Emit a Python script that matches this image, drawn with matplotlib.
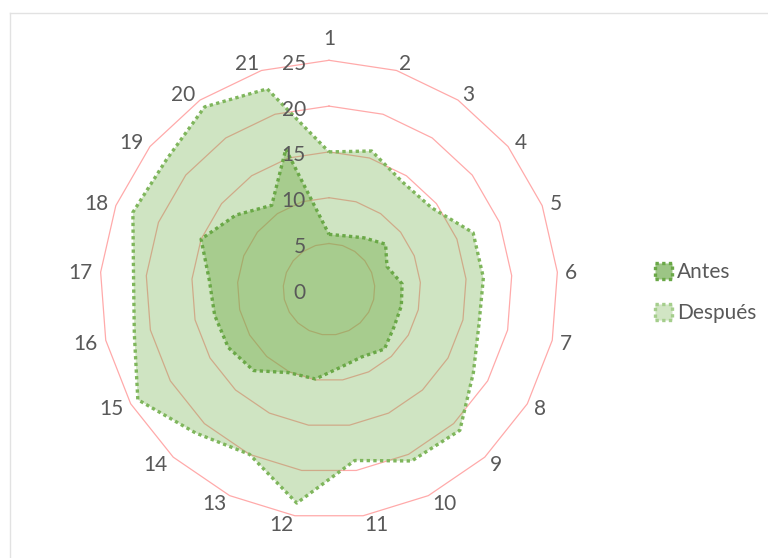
import numpy as np
import matplotlib
matplotlib.use('Agg')
import matplotlib.pyplot as plt
from matplotlib.patches import Patch
from matplotlib.lines import Line2D

categories = [str(i) for i in range(1, 22)]
antes = [6.0, 6.1, 6.8, 7.9, 6.8, 8.0, 8.1, 8.2, 8.9, 8.2, 8.6, 9.9, 10.1,
         12.1, 12.7, 12.8, 13.1, 15.0, 13.0, 11.1, 16.0]
despues = [15.0, 15.8, 14.2, 14.3, 16.9, 16.9, 16.8, 18.2, 21.0, 20.8, 18.9,
           23.6, 20.0, 21.4, 24.1, 21.8, 21.4, 23.0, 22.7, 24.1, 22.9]
r_ticks = [0, 5, 10, 15, 20, 25]
series_names = ['Antes', 'Después']

plt.rcParams['font.family'] = ['Lato', 'DejaVu Sans']
W, H, DPI = 768, 558, 100
TXT = '#595959'
FS = 15
fig = plt.figure(figsize=(W / DPI, H / DPI), dpi=DPI)
fig.patch.set_facecolor('white')

# chart-area border (only top and left visible)
fig.add_artist(Line2D([10 / W, 1.0], [1 - 13 / H, 1 - 13 / H], color='#E2E2E2', lw=1.0))
fig.add_artist(Line2D([10 / W, 10 / W], [0.0, 1 - 13 / H], color='#E2E2E2', lw=1.0))

cx, cy, R = 329, 289.3, 229
ax = fig.add_axes([(cx - R) / W, (H - cy - R) / H, 2 * R / W, 2 * R / H], projection='polar')
ax.set_theta_zero_location('N')
ax.set_theta_direction(-1)
ax.set_ylim(0, 25)
ax.set_axis_off()

n = len(categories)
theta = np.linspace(0, 2 * np.pi, n, endpoint=False)
tc = np.append(theta, theta[0])

# polygon gridlines
for r in r_ticks[1:]:
    ax.plot(tc, [r] * (n + 1), color='#FFAAAA', lw=0.9, zorder=1, clip_on=False)

green = '#70AD47'
d_c = np.append(despues, despues[0])
a_c = np.append(antes, antes[0])
ax.fill(tc, d_c, color=green, alpha=0.33, lw=0, zorder=2)
ax.fill(tc, a_c, color=green, alpha=0.42, lw=0, zorder=3)
ax.plot(tc, d_c, color='#7FB65C', lw=2.4, linestyle=(0, (1, 1)),
        dash_capstyle='butt', zorder=4, clip_on=False)
ax.plot(tc, a_c, color='#6AA847', lw=2.4, linestyle=(0, (1, 1)),
        dash_capstyle='butt', zorder=5, clip_on=False)

# category labels
k = 72.0 / DPI
for th, lab in zip(theta, categories):
    s, c = np.sin(th), np.cos(th)
    if abs(s) < 1e-6:
        d = 11
        ha, va, dy = 'center', 'bottom', 0
    else:
        d = 8
        ha = 'left' if s > 0 else 'right'
        va, dy = 'center', -1.5
    ax.annotate(lab, xy=(th, 25), xytext=(s * d * k, (c * d + dy) * k),
                textcoords='offset points', ha=ha, va=va,
                fontsize=FS, color=TXT, annotation_clip=False)

# radial value labels
for r in r_ticks:
    ax.annotate(str(r), xy=(0, r), xytext=(-23 * k, -3.5 * k),
                textcoords='offset points', ha='right', va='center',
                fontsize=FS, color=TXT, zorder=6, annotation_clip=False)

handles = [
    Patch(facecolor='#9CC585', edgecolor='#6AA847', lw=2.4, linestyle=(0, (1, 1))),
    Patch(facecolor='#D1E5C4', edgecolor='#A5CE8C', lw=2.4, linestyle=(0, (1, 1))),
]
fig.legend(handles, series_names, loc='upper left', bbox_to_anchor=(655 / W, 1 - 262 / H),
           frameon=False, fontsize=FS, labelcolor=TXT, handlelength=0.82,
           handleheight=0.82, handletextpad=0.24, labelspacing=1.0, borderpad=0,
           borderaxespad=0)

fig.savefig('out.png', dpi=DPI, facecolor='white')
